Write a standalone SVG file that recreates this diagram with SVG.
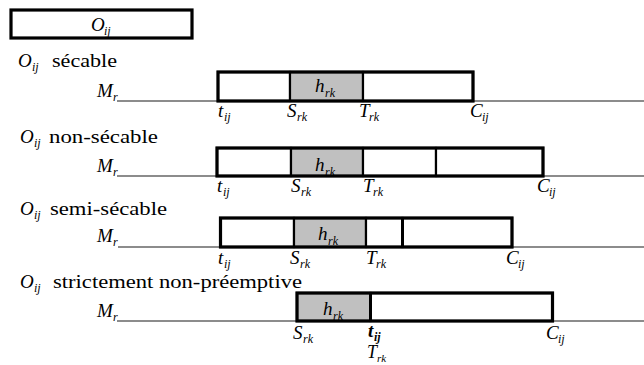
<svg xmlns="http://www.w3.org/2000/svg" width="644" height="365" viewBox="0 0 644 365">
<rect x="0" y="0" width="644" height="365" fill="#fff"/>
<g id="axes" stroke="#666" stroke-width="1.4" fill="none">
<line x1="117" y1="101" x2="644" y2="101"/>
<line x1="117" y1="176" x2="644" y2="176"/>
<line x1="118" y1="247" x2="644" y2="247"/>
<line x1="117" y1="321" x2="644" y2="321"/>
</g>
<g id="oij">
<rect x="11" y="10" width="181" height="28" fill="none" stroke="#000" stroke-width="3.2"/>
<text style="font-family:'Liberation Serif',serif !important;font-style:italic;font-size:19px" x="91" y="31">O</text>
<text style="font-family:'Liberation Serif',serif !important;font-style:italic;font-size:12px" x="104" y="35">ij</text>
</g>
<g id="row-secable">
<text style="font-family:'Liberation Serif',serif !important;font-style:italic;font-size:19px" x="18" y="67">O</text>
<text style="font-family:'Liberation Serif',serif !important;font-style:italic;font-size:12px" x="32" y="71">ij</text>
<text style="font-family:'Liberation Serif',serif !important;font-size:19px" x="52" y="67" textLength="65" lengthAdjust="spacingAndGlyphs">sécable</text>
<text style="font-family:'Liberation Serif',serif !important;font-style:italic;font-size:19px" x="97" y="97">M</text>
<text style="font-family:'Liberation Serif',serif !important;font-style:italic;font-size:12px" x="113" y="101">r</text>
<g stroke="#000" stroke-width="2.2">
<rect x="218" y="72" width="72" height="29" fill="#fff"/>
<rect x="290" y="72" width="73" height="29" fill="#c0c0c0"/>
<rect x="363" y="72" width="110" height="29" fill="#fff"/>
</g>
<rect x="218" y="72" width="255" height="29" fill="none" stroke="#000" stroke-width="3.2"/>
<text style="font-family:'Liberation Serif',serif !important;font-style:italic;font-size:19px" x="315" y="92">h</text>
<text style="font-family:'Liberation Serif',serif !important;font-style:italic;font-size:12px" x="325" y="97">rk</text>
<text style="font-family:'Liberation Serif',serif !important;font-style:italic;font-size:19px" x="218" y="117">t</text>
<text style="font-family:'Liberation Serif',serif !important;font-style:italic;font-size:12px" x="224" y="121">ij</text>
<text style="font-family:'Liberation Serif',serif !important;font-style:italic;font-size:19px" x="287" y="117">S</text>
<text style="font-family:'Liberation Serif',serif !important;font-style:italic;font-size:12px" x="297" y="121">rk</text>
<text style="font-family:'Liberation Serif',serif !important;font-style:italic;font-size:19px" x="359" y="117">T</text>
<text style="font-family:'Liberation Serif',serif !important;font-style:italic;font-size:12px" x="369" y="121">rk</text>
<text style="font-family:'Liberation Serif',serif !important;font-style:italic;font-size:19px" x="470" y="117">C</text>
<text style="font-family:'Liberation Serif',serif !important;font-style:italic;font-size:12px" x="482" y="121">ij</text>
</g>
<g id="row-non-secable">
<text style="font-family:'Liberation Serif',serif !important;font-style:italic;font-size:19px" x="20" y="143">O</text>
<text style="font-family:'Liberation Serif',serif !important;font-style:italic;font-size:12px" x="34" y="147">ij</text>
<text style="font-family:'Liberation Serif',serif !important;font-size:19px" x="49" y="143" textLength="109" lengthAdjust="spacingAndGlyphs">non-sécable</text>
<text style="font-family:'Liberation Serif',serif !important;font-style:italic;font-size:19px" x="97" y="172">M</text>
<text style="font-family:'Liberation Serif',serif !important;font-style:italic;font-size:12px" x="113" y="176">r</text>
<g stroke="#000" stroke-width="2.2">
<rect x="217" y="148" width="74" height="28" fill="#fff"/>
<rect x="291" y="148" width="72" height="28" fill="#c0c0c0"/>
<rect x="363" y="148" width="73" height="28" fill="#fff"/>
<rect x="436" y="148" width="107" height="28" fill="#fff"/>
</g>
<rect x="217" y="148" width="326" height="28" fill="none" stroke="#000" stroke-width="3.2"/>
<text style="font-family:'Liberation Serif',serif !important;font-style:italic;font-size:19px" x="315" y="171">h</text>
<text style="font-family:'Liberation Serif',serif !important;font-style:italic;font-size:12px" x="325" y="176">rk</text>
<text style="font-family:'Liberation Serif',serif !important;font-style:italic;font-size:19px" x="217" y="192">t</text>
<text style="font-family:'Liberation Serif',serif !important;font-style:italic;font-size:12px" x="223" y="196">ij</text>
<text style="font-family:'Liberation Serif',serif !important;font-style:italic;font-size:19px" x="291" y="192">S</text>
<text style="font-family:'Liberation Serif',serif !important;font-style:italic;font-size:12px" x="301" y="196">rk</text>
<text style="font-family:'Liberation Serif',serif !important;font-style:italic;font-size:19px" x="363" y="192">T</text>
<text style="font-family:'Liberation Serif',serif !important;font-style:italic;font-size:12px" x="373" y="196">rk</text>
<text style="font-family:'Liberation Serif',serif !important;font-style:italic;font-size:19px" x="537" y="192">C</text>
<text style="font-family:'Liberation Serif',serif !important;font-style:italic;font-size:12px" x="549" y="196">ij</text>
</g>
<g id="row-semi-secable">
<text style="font-family:'Liberation Serif',serif !important;font-style:italic;font-size:19px" x="20" y="215">O</text>
<text style="font-family:'Liberation Serif',serif !important;font-style:italic;font-size:12px" x="34" y="219">ij</text>
<text style="font-family:'Liberation Serif',serif !important;font-size:19px" x="50" y="215" textLength="117" lengthAdjust="spacingAndGlyphs">semi-sécable</text>
<text style="font-family:'Liberation Serif',serif !important;font-style:italic;font-size:19px" x="97" y="242">M</text>
<text style="font-family:'Liberation Serif',serif !important;font-style:italic;font-size:12px" x="113" y="246">r</text>
<g stroke="#000" stroke-width="2.2">
<rect x="220.5" y="218" width="73.5" height="29" fill="#fff"/>
<rect x="294" y="218" width="72" height="29" fill="#c0c0c0"/>
<rect x="366" y="218" width="36.5" height="29" fill="#fff"/>
<rect x="402.5" y="218" width="109.5" height="29" fill="#fff"/>
</g>
<line x1="402.5" y1="218" x2="402.5" y2="247" stroke="#000" stroke-width="3"/>
<rect x="220.5" y="218" width="291.5" height="29" fill="none" stroke="#000" stroke-width="3.2"/>
<text style="font-family:'Liberation Serif',serif !important;font-style:italic;font-size:19px" x="318" y="240">h</text>
<text style="font-family:'Liberation Serif',serif !important;font-style:italic;font-size:12px" x="328" y="245">rk</text>
<text style="font-family:'Liberation Serif',serif !important;font-style:italic;font-size:19px" x="218" y="264">t</text>
<text style="font-family:'Liberation Serif',serif !important;font-style:italic;font-size:12px" x="224" y="268">ij</text>
<text style="font-family:'Liberation Serif',serif !important;font-style:italic;font-size:19px" x="290" y="264">S</text>
<text style="font-family:'Liberation Serif',serif !important;font-style:italic;font-size:12px" x="300" y="268">rk</text>
<text style="font-family:'Liberation Serif',serif !important;font-style:italic;font-size:19px" x="366" y="264">T</text>
<text style="font-family:'Liberation Serif',serif !important;font-style:italic;font-size:12px" x="376" y="268">rk</text>
<text style="font-family:'Liberation Serif',serif !important;font-style:italic;font-size:19px" x="506" y="264">C</text>
<text style="font-family:'Liberation Serif',serif !important;font-style:italic;font-size:12px" x="518" y="268">ij</text>
</g>
<g id="row-strict">
<text style="font-family:'Liberation Serif',serif !important;font-style:italic;font-size:19px" x="20" y="288">O</text>
<text style="font-family:'Liberation Serif',serif !important;font-style:italic;font-size:12px" x="34" y="292">ij</text>
<text style="font-family:'Liberation Serif',serif !important;font-size:19px" x="53" y="288" textLength="249" lengthAdjust="spacingAndGlyphs">strictement non-préemptive</text>
<text style="font-family:'Liberation Serif',serif !important;font-style:italic;font-size:19px" x="97" y="317">M</text>
<text style="font-family:'Liberation Serif',serif !important;font-style:italic;font-size:12px" x="113" y="321">r</text>
<g stroke="#000" stroke-width="2.2">
<rect x="297" y="293" width="73.5" height="28" fill="#c0c0c0"/>
<rect x="370.5" y="293" width="182" height="28" fill="#fff"/>
</g>
<line x1="370.5" y1="293" x2="370.5" y2="321" stroke="#000" stroke-width="3"/>
<rect x="297" y="293" width="255.5" height="28" fill="none" stroke="#000" stroke-width="3.2"/>
<text style="font-family:'Liberation Serif',serif !important;font-style:italic;font-size:19px" x="323" y="315">h</text>
<text style="font-family:'Liberation Serif',serif !important;font-style:italic;font-size:12px" x="333" y="320">rk</text>
<text style="font-family:'Liberation Serif',serif !important;font-style:italic;font-size:19px" x="293" y="339">S</text>
<text style="font-family:'Liberation Serif',serif !important;font-style:italic;font-size:12px" x="303" y="343">rk</text>
<text style="font-family:'Liberation Serif',serif !important;font-style:italic;font-weight:bold;font-size:19px" x="368" y="337">t</text>
<text style="font-family:'Liberation Serif',serif !important;font-style:italic;font-weight:bold;font-size:12px" x="374" y="341">ij</text>
<text style="font-family:'Liberation Serif',serif !important;font-style:italic;font-size:18px" x="367" y="358">T</text>
<text style="font-family:'Liberation Serif',serif !important;font-style:italic;font-size:11px" x="377" y="362">rk</text>
<text style="font-family:'Liberation Serif',serif !important;font-style:italic;font-size:19px" x="546" y="339">C</text>
<text style="font-family:'Liberation Serif',serif !important;font-style:italic;font-size:12px" x="558" y="343">ij</text>
</g>
</svg>
